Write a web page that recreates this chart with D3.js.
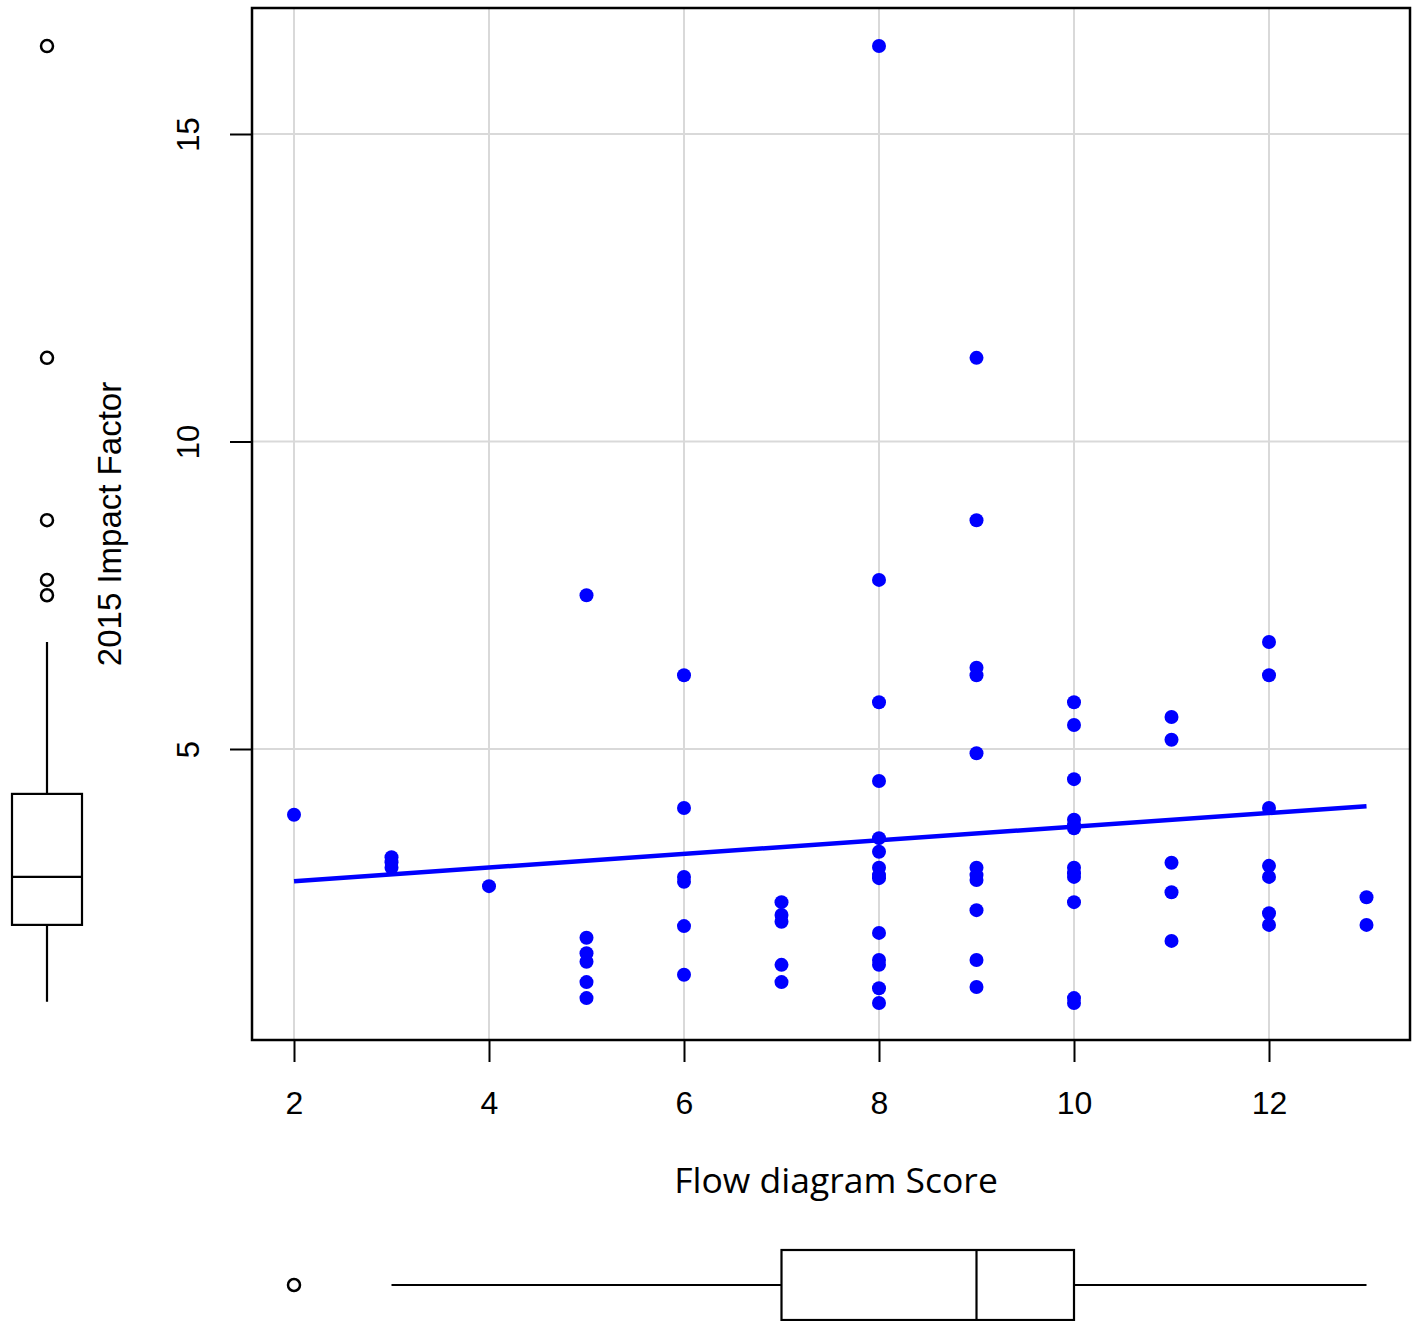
<!DOCTYPE html>
<html>
<head>
<meta charset="utf-8">
<script src="https://cdn.jsdelivr.net/npm/d3@7"></script>
<style>
  body { margin: 0; background: #fff; }
  svg { display: block; }
</style>
</head>
<body>
<div id="chart"></div>
<script>
// Flow diagram score (x) against 2015 impact factor (y), one entry per journal
const scores = [
    2,
    3, 3, 3,
    4,
    5, 5, 5, 5, 5, 5,
    6, 6, 6, 6, 6, 6,
    7, 7, 7, 7, 7,
    8, 8, 8, 8, 8, 8, 8, 8, 8, 8, 8, 8, 8, 8,
    9, 9, 9, 9, 9, 9, 9, 9, 9, 9, 9,
    10, 10, 10, 10, 10, 10, 10, 10, 10, 10, 10, 10,
    11, 11, 11, 11, 11,
    12, 12, 12, 12, 12, 12, 12,
    13, 13
];
const impact = [
    3.93,
    3.24, 3.16, 3.07,
    2.77,
    7.50, 1.93, 1.68, 1.54, 1.21, 0.95,
    6.20, 4.04, 2.92, 2.84, 2.12, 1.33,
    2.51, 2.30, 2.19, 1.49, 1.21,
    16.43, 7.75, 5.76, 4.48, 3.55, 3.33, 3.07, 2.95, 2.90, 2.01, 1.57, 1.49, 1.11, 0.87,
    11.36, 8.72, 6.32, 6.20, 4.93, 3.07, 2.95, 2.87, 2.38, 1.57, 1.13,
    5.76, 5.39, 4.51, 3.85, 3.76, 3.71, 3.07, 2.98, 2.92, 2.51, 0.95, 0.87,
    5.52, 5.15, 3.15, 2.67, 1.88,
    6.74, 6.20, 4.04, 3.10, 2.92, 2.33, 2.14,
    2.59, 2.14
];

// fitted line (impact = intercept + slope * score)
const fitIntercept = 2.628;
const fitSlope = 0.111;

// marginal boxplots: [lower whisker, Q1, median, Q3, upper whisker]
const impactBox = [0.89, 2.14, 2.92, 4.27, 6.74];
const impactOutliers = [16.43, 11.36, 8.72, 7.75, 7.50];
const scoreBox = [3, 7, 9, 10, 13];
const scoreOutliers = [2];

const xTicks = [2, 4, 6, 8, 10, 12];
const yTicks = [5, 10, 15];

const width = 1418, height = 1321;
const frame = { left: 252, right: 1410, top: 8, bottom: 1040 };

const x = d3.scaleLinear().domain([2, 12]).range([294, 1269]);
const y = d3.scaleLinear().domain([5, 15]).range([749, 134]);

const svg = d3.select("#chart").append("svg")
    .attr("width", width)
    .attr("height", height)
    .attr("font-family", "'Liberation Sans', Arial, sans-serif");

// grid
const grid = svg.append("g")
    .attr("stroke", "#d9d9d9")
    .attr("stroke-width", 2);
grid.selectAll("line.vx")
    .data(xTicks)
    .join("line")
    .attr("class", "vx")
    .attr("x1", d => x(d)).attr("x2", d => x(d))
    .attr("y1", frame.top).attr("y2", frame.bottom);
grid.selectAll("line.hy")
    .data(yTicks)
    .join("line")
    .attr("class", "hy")
    .attr("x1", frame.left).attr("x2", frame.right)
    .attr("y1", d => y(d)).attr("y2", d => y(d));

// axes
const xAxis = svg.append("g")
    .attr("transform", `translate(0,${frame.bottom})`)
    .call(d3.axisBottom(x).tickValues(xTicks).tickSize(22).tickPadding(29));
xAxis.select(".domain").remove();
xAxis.selectAll(".tick line").attr("stroke", "#000").attr("stroke-width", 2);
xAxis.selectAll(".tick text")
    .attr("font-size", 32)
    .attr("fill", "#000")
    .attr("font-family", "'Liberation Sans Narrow', 'Liberation Sans', Arial, sans-serif");

const yAxis = svg.append("g")
    .attr("transform", `translate(${frame.left},0)`)
    .call(d3.axisLeft(y).tickValues(yTicks).tickSize(22).tickPadding(0));
yAxis.select(".domain").remove();
yAxis.selectAll(".tick line").attr("stroke", "#000").attr("stroke-width", 2);
yAxis.selectAll(".tick text")
    .attr("font-size", 31)
    .attr("fill", "#000")
    .attr("text-anchor", "middle")
    .attr("x", 0).attr("dy", 0)
    .attr("transform", "translate(-61,0) rotate(-90)")
    .attr("dominant-baseline", "middle");

// fitted line over the range of the scores
const xr = d3.extent(scores);
svg.append("line")
    .attr("x1", x(xr[0])).attr("y1", y(fitIntercept + fitSlope * xr[0]))
    .attr("x2", x(xr[1])).attr("y2", y(fitIntercept + fitSlope * xr[1]))
    .attr("stroke", "#0000ff")
    .attr("stroke-width", 4.5);

// points
svg.append("g")
    .attr("fill", "#0000ff")
    .selectAll("circle")
    .data(scores.map((s, i) => [s, impact[i]]))
    .join("circle")
    .attr("cx", d => x(d[0]))
    .attr("cy", d => y(d[1]))
    .attr("r", 7);

// frame
svg.append("rect")
    .attr("x", frame.left).attr("y", frame.top)
    .attr("width", frame.right - frame.left)
    .attr("height", frame.bottom - frame.top)
    .attr("fill", "none")
    .attr("stroke", "#000")
    .attr("stroke-width", 2.5);

// axis titles
svg.append("text")
    .attr("x", 836).attr("y", 1193)
    .attr("text-anchor", "middle")
    .attr("font-family", "'Open Sans', 'Noto Sans', sans-serif")
    .attr("font-size", 35.5)
    .attr("fill", "#000")
    .text("Flow diagram Score");

svg.append("text")
    .attr("transform", "translate(121,524) rotate(-90)")
    .attr("text-anchor", "middle")
    .attr("font-size", 33)
    .attr("fill", "#000")
    .text("2015 Impact Factor");

// vertical boxplot of impact factor (left margin)
const vb = svg.append("g")
    .attr("stroke", "#000")
    .attr("stroke-width", 2.2)
    .attr("fill", "none");
const vcx = 47, vhw = 35;
vb.append("line").attr("x1", vcx).attr("x2", vcx)
    .attr("y1", y(impactBox[0])).attr("y2", y(impactBox[1]));
vb.append("line").attr("x1", vcx).attr("x2", vcx)
    .attr("y1", y(impactBox[3])).attr("y2", y(impactBox[4]));
vb.append("rect")
    .attr("x", vcx - vhw).attr("width", vhw * 2)
    .attr("y", y(impactBox[3]))
    .attr("height", y(impactBox[1]) - y(impactBox[3]));
vb.append("line").attr("x1", vcx - vhw).attr("x2", vcx + vhw)
    .attr("y1", y(impactBox[2])).attr("y2", y(impactBox[2]));
vb.selectAll("circle")
    .data(impactOutliers)
    .join("circle")
    .attr("cx", vcx).attr("cy", d => y(d)).attr("r", 6)
    .attr("stroke-width", 2.5);

// horizontal boxplot of flow diagram score (bottom margin)
const hb = svg.append("g")
    .attr("stroke", "#000")
    .attr("stroke-width", 2.2)
    .attr("fill", "none");
const hcy = 1285, hhw = 35;
hb.append("line").attr("y1", hcy).attr("y2", hcy)
    .attr("x1", x(scoreBox[0])).attr("x2", x(scoreBox[1]));
hb.append("line").attr("y1", hcy).attr("y2", hcy)
    .attr("x1", x(scoreBox[3])).attr("x2", x(scoreBox[4]));
hb.append("rect")
    .attr("y", hcy - hhw).attr("height", hhw * 2)
    .attr("x", x(scoreBox[1]))
    .attr("width", x(scoreBox[3]) - x(scoreBox[1]));
hb.append("line").attr("y1", hcy - hhw).attr("y2", hcy + hhw)
    .attr("x1", x(scoreBox[2])).attr("x2", x(scoreBox[2]));
hb.selectAll("circle")
    .data(scoreOutliers)
    .join("circle")
    .attr("cx", d => x(d)).attr("cy", hcy).attr("r", 6)
    .attr("stroke-width", 2.5);
</script>
</body>
</html>
